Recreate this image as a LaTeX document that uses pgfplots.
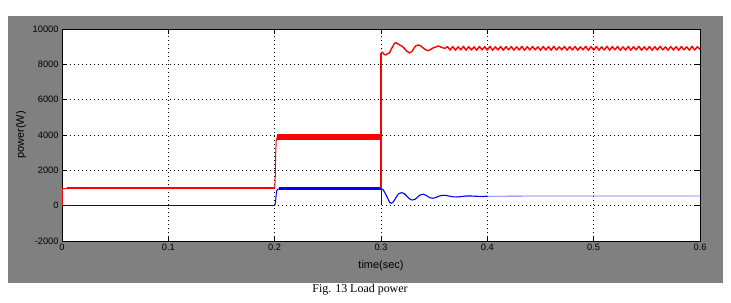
\documentclass[border=0pt]{standalone}
\usepackage{fontspec}
\setmainfont{Liberation Sans}
\newfontfamily\timesfont{Liberation Serif}
\usepackage{pgfplots}
\pgfplotsset{compat=1.18}
\definecolor{mgray}{RGB}{128,128,128}
\definecolor{mred}{RGB}{255,0,0}
\definecolor{mblue}{RGB}{0,0,255}
\definecolor{navy}{RGB}{0,0,190}
\definecolor{lblue}{RGB}{110,110,255}
\begin{document}
\begin{tikzpicture}[x=1bp,y=1bp]
\path (0,0) rectangle (731,302);
\fill[mgray] (8,19) rectangle (723,286);
\begin{axis}[
  at={(62bp,61bp)}, anchor=south west,
  scale only axis, width=638bp, height=212bp,
  xmin=0, xmax=0.6, ymin=-2000, ymax=10000,
  xtick={0,0.1,0.2,0.3,0.4,0.5,0.6},
  ytick={-2000,0,2000,4000,6000,8000,10000},
  grid=major,
  grid style={black, dash pattern=on 0.8bp off 3.2bp, line width=0.6bp},
  axis background/.style={fill=white},
  tick align=inside, major tick length=5bp,
  tick style={black, line width=0.7bp},
  axis line style={black, line width=0.9bp},
  ticklabel style={font=\fontsize{9.3}{11}\selectfont},
  scaled ticks=false,
  /pgf/number format/assume math mode=true,
  /pgf/number format/1000 sep={},
  xticklabel style={/pgf/number format/fixed, /pgf/number format/precision=1},
  xlabel={time(sec)}, ylabel={power(W)},
  label style={font=\fontsize{11}{13}\selectfont},
  xlabel style={at={(axis description cs:0.5,0)}, anchor=center, yshift=-25bp},
  ylabel style={at={(axis description cs:0,0.5)}, anchor=center, yshift=41bp},
  line join=round,
]
% blue (before 0.2)
\addplot[navy, line width=0.8bp] coordinates {(0,0) (0.2,0)};
% red step at 0
\addplot[mred, line width=0.9bp] coordinates {(0,0) (0,1000) (0.006,1000)};
\addplot[mred, line width=2.6bp] coordinates {(0.005,1000) (0.2,1000)};
% red rise at 0.2
\addplot[mred, line width=1bp] coordinates {(0.2,1000) (0.2005,1500) (0.201,3000) (0.2015,3700) (0.2025,3900)};
\addplot[mred, line width=6.5bp] coordinates {(0.2022,3900) (0.2998,3900)};
% blue rise at 0.2
\addplot[mblue, line width=1bp] coordinates {(0.2,0) (0.2008,200) (0.2015,650) (0.202,850) (0.203,930) (0.205,970)};
\addplot[mblue, line width=2.8bp] coordinates {(0.2045,985) (0.2998,985)};
% blue after 0.3
\addplot[mblue, line width=1bp] coordinates {(0.3,985) (0.3,100)};
\addplot[mblue, line width=1.1bp] coordinates {
 (0.3,960) (0.302,900) (0.304,700) (0.306,450) (0.308,200) (0.3094,135)
 (0.311,180) (0.313,350) (0.315,550) (0.317,690) (0.3194,736) (0.322,680)
 (0.324,560) (0.326,430) (0.328,340) (0.3297,322) (0.332,360) (0.334,460)
 (0.336,570) (0.338,635) (0.3398,645) (0.342,600) (0.344,520) (0.346,450)
 (0.3486,419) (0.351,450) (0.354,530) (0.357,580) (0.3596,588) (0.362,570)
 (0.365,530) (0.368,500) (0.371,492) (0.375,510) (0.38,545) (0.384,549)
 (0.39,530) (0.395,520) (0.40,535)};
\addplot[lblue, line width=0.8bp] coordinates {(0.40,535) (0.45,545) (0.5,545) (0.6,545)};
% red after 0.3
\addplot[mred, line width=1.2bp] coordinates {(0.3,1000) (0.3,8660)};
\addplot[mred, line width=1.4bp] coordinates {
 (0.3,8660) (0.3015,8680) (0.303,8560) (0.3047,8530) (0.306,8600) (0.308,8650)
 (0.3095,8850) (0.311,9000) (0.3125,9180) (0.314,9226) (0.316,9150) (0.318,9080)
 (0.320,9020) (0.322,8900) (0.324,8760) (0.3255,8700) (0.3267,8640) (0.329,8720)
 (0.331,8920) (0.333,9060) (0.335,9095) (0.337,9060) (0.339,8960) (0.342,8820)
 (0.3445,8773) (0.347,8860) (0.350,8960) (0.352,8990) (0.354,9040) (0.357,8960)
 (0.3600,8900)
 (0.3625,9000) (0.365,8810) (0.3675,9010) (0.37,8800) (0.3725,8990) (0.375,8820)
 (0.3775,9020) (0.38,8800) (0.3825,9000) (0.385,8810) (0.3875,8990) (0.39,8800)
 (0.3925,9010) (0.395,8820) (0.3975,9000) (0.4,8810) (0.4025,9020) (0.405,8800)
 (0.4075,8990) (0.41,8810) (0.4125,9010) (0.415,8800) (0.4175,9000) (0.42,8820)
 (0.4225,9010) (0.425,8800) (0.4275,8990) (0.43,8810) (0.4325,9020) (0.435,8800)
 (0.4375,9000) (0.44,8810) (0.4425,9010) (0.445,8820) (0.4475,8990) (0.45,8800)
 (0.4525,9010) (0.455,8810) (0.4575,9000) (0.46,8800) (0.4625,9020) (0.465,8810)
 (0.4675,8990) (0.47,8820) (0.4725,9010) (0.475,8800) (0.4775,9000) (0.48,8810)
 (0.4825,9010) (0.485,8800) (0.4875,8990) (0.49,8820) (0.4925,9020) (0.495,8800)
 (0.4975,9000) (0.5,8810) (0.5025,9010) (0.505,8800) (0.5075,8990) (0.51,8810)
 (0.5125,9020) (0.515,8800) (0.5175,9000) (0.52,8820) (0.5225,9010) (0.525,8800)
 (0.5275,8990) (0.53,8810) (0.5325,9010) (0.535,8800) (0.5375,9000) (0.54,8820)
 (0.5425,9020) (0.545,8800) (0.5475,8990) (0.55,8810) (0.5525,9010) (0.555,8800)
 (0.5575,9000) (0.56,8810) (0.5625,9020) (0.565,8820) (0.5675,8990) (0.57,8800)
 (0.5725,9010) (0.575,8810) (0.5775,9000) (0.58,8800) (0.5825,9010) (0.585,8820)
 (0.5875,8990) (0.59,8800) (0.5925,9020) (0.595,8810) (0.5975,9000) (0.6,8850)};
\end{axis}
\node[font=\timesfont\fontsize{12}{14}\selectfont, anchor=center] at (360,12) {Fig. 13 Load power};
\end{tikzpicture}
\end{document}
